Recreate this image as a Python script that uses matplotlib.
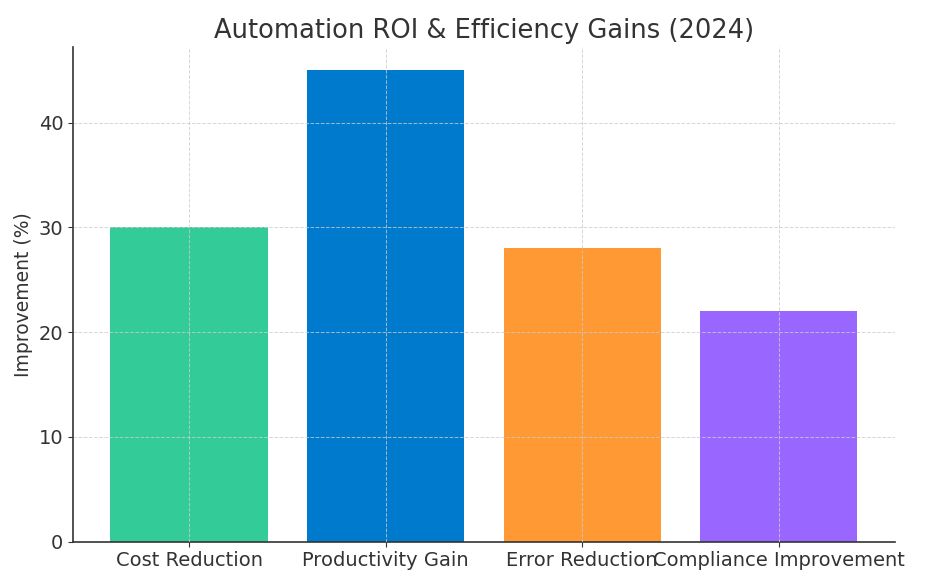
import matplotlib
matplotlib.use("Agg")
import matplotlib.pyplot as plt

categories = ["Cost Reduction", "Productivity Gain", "Error Reduction", "Compliance Improvement"]
improvement = [30, 45, 28, 22]
colors = ["#33cc99", "#007acc", "#ff9933", "#9966ff"]

plt.rcParams["font.family"] = "DejaVu Sans"
text_color = "#333333"

fig, ax = plt.subplots(figsize=(9.36, 5.85), dpi=100)
ax.bar(categories, improvement, color=colors, width=0.8)

ax.set_title("Automation ROI & Efficiency Gains (2024)", fontsize=18.5, color=text_color)
ax.set_ylabel("Improvement (%)", fontsize=13.5, color=text_color)
ax.tick_params(axis="both", labelsize=14, colors=text_color)
ax.grid(True, linestyle="--", color="#cccccc", linewidth=0.7, alpha=0.8)
ax.set_axisbelow(False)
for side in ["top", "right"]:
    ax.spines[side].set_visible(False)
for side in ["left", "bottom"]:
    ax.spines[side].set_color(text_color)
    ax.spines[side].set_linewidth(1.2)

fig.subplots_adjust(left=0.078, right=0.956, top=0.92, bottom=0.074)
fig.savefig("out.png", dpi=100)
